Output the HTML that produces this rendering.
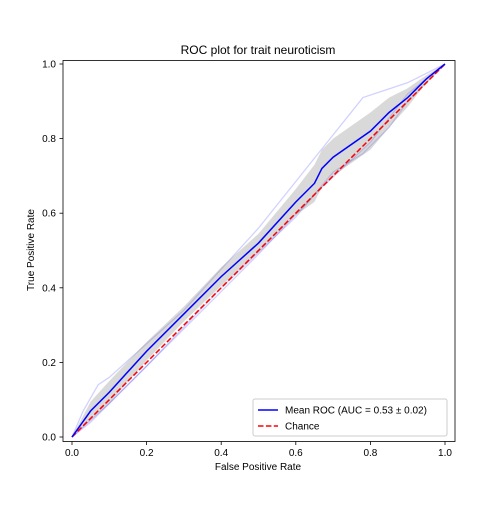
<!DOCTYPE html>
<html><head><meta charset="utf-8"><style>
body{margin:0;background:#fff;font-family:"Liberation Sans","DejaVu Sans",sans-serif}
svg text{font-family:"Liberation Sans","DejaVu Sans",sans-serif;font-size:10px;fill:#000}
</style></head><body>
<svg id="chart" width="504" height="504">
<text x="258" y="54" text-anchor="middle" style="font-size:12px">ROC plot for trait neuroticism</text>
<text x="258" y="470" text-anchor="middle">False Positive Rate</text>
<text transform="translate(34,250) rotate(-90)" text-anchor="middle">True Positive Rate</text>
<g id="plot"></g>
</svg>
<script>
const fpr=[0,0.05,0.1,0.2,0.3,0.4,0.5,0.6,0.65,0.67,0.7,0.8,0.85,0.9,0.95,1];
const meanTpr=[0,0.07,0.12,0.23,0.33,0.43,0.52,0.63,0.68,0.72,0.75,0.82,0.87,0.91,0.96,1];
const stdTpr=[0,0.025,0.03,0.025,0.02,0.025,0.025,0.035,0.05,0.05,0.05,0.05,0.04,0.025,0.01,0];
const fold1X=[0,0.03,0.07,0.1,0.3,0.5,0.66,0.78,0.9,1];
const fold1Y=[0,0.07,0.14,0.16,0.34,0.56,0.76,0.91,0.95,1];
const fold2X=[0,0.05,0.2,0.4,0.6,0.7,0.78,0.85,0.9,1];
const fold2Y=[0,0.04,0.19,0.40,0.59,0.71,0.76,0.83,0.9,1];
const fold3X=[0,0.1,0.3,0.5,0.66,0.8,0.9,1];
const fold3Y=[0,0.09,0.29,0.49,0.66,0.79,0.92,1];
const ticks=[0,0.2,0.4,0.6,0.8,1.0];
const tickLabels=["0.0","0.2","0.4","0.6","0.8","1.0"];
const NS="http://www.w3.org/2000/svg";
const sx=v=>72+v*373, sy=v=>437-v*373;
const g=document.getElementById('plot');
function mk(t,a){const e=document.createElementNS(NS,t);for(const k in a)e.setAttribute(k,a[k]);g.appendChild(e);return e;}
function pts(xs,ys){return xs.map((x,i)=>sx(x)+','+sy(ys[i])).join(' ');}
const folds=[[fold1X,fold1Y],[fold2X,fold2Y],[fold3X,fold3Y]];
folds.forEach((f,i)=>{const e=mk('polyline',{points:pts(f[0],f[1]),fill:'none',stroke:'#0000ff','stroke-opacity':0.18,'stroke-width':1.3});

});
const up=meanTpr.map((v,i)=>Math.min(1,v+stdTpr[i])), lo=meanTpr.map((v,i)=>Math.max(0,v-stdTpr[i]));
const band=mk('polygon',{points:pts(fpr,up)+' '+pts(fpr.slice().reverse(),lo.slice().reverse()),fill:'#808080','fill-opacity':0.3,stroke:'none'});


const ch=mk('line',{x1:sx(0),y1:sy(0),x2:sx(1),y2:sy(1),stroke:'#ff0000','stroke-width':1.5,'stroke-dasharray':'5.5,2.4'});


const m=mk('polyline',{points:pts(fpr,meanTpr),fill:'none',stroke:'#0000ff','stroke-width':1.5});


const fr=mk('rect',{x:63,y:60.5,width:392,height:381,fill:'none',stroke:'#000','stroke-width':0.8});


ticks.forEach((t,i)=>{
 const a=mk('line',{x1:sx(t),x2:sx(t),y1:441.5,y2:445,stroke:'#000','stroke-width':0.8});
 
 
 const tx=mk('text',{x:sx(t),y:456,'text-anchor':'middle'});tx.textContent=tickLabels[i];
 
 
 const b=mk('line',{x1:59.5,x2:63,y1:sy(t),y2:sy(t),stroke:'#000','stroke-width':0.8});
 
 
 const ty=mk('text',{x:56,y:sy(t)+3.5,'text-anchor':'end'});ty.textContent=tickLabels[i];
 
 
});
const lg=mk('rect',{x:253,y:399,width:194,height:37,rx:2,fill:'#fff','fill-opacity':0.8,stroke:'#ccc'});


const l1=mk('line',{x1:258,x2:278,y1:410,y2:410,stroke:'#0000ff','stroke-width':1.5});


const t1=mk('text',{x:285,y:413.5});t1.textContent='Mean ROC (AUC = 0.53 \u00b1 0.02)';


const l2=mk('line',{x1:258,x2:278,y1:426,y2:426,stroke:'#ff0000','stroke-width':1.5,'stroke-dasharray':'5.5,2.4'});


const t2=mk('text',{x:285,y:429.5});t2.textContent='Chance';


</script>
</body></html>
